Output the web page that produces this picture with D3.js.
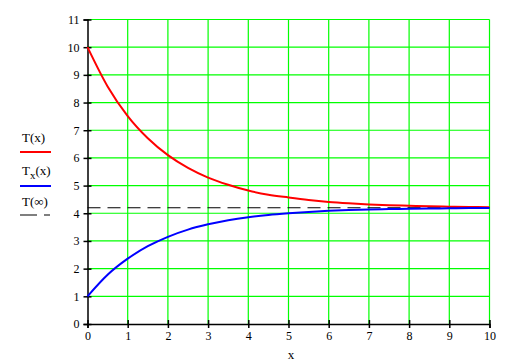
<!DOCTYPE html>
<html>
<head>
<meta charset="utf-8">
<script src="https://cdn.jsdelivr.net/npm/d3@7"></script>
<style>
  body { margin: 0; background: #fff; }
  text { font-family: "Liberation Serif", "DejaVu Serif", serif; fill: #000; }
</style>
</head>
<body>
<div id="chart"></div>
<script>
var svgWidth = 518;
var svgHeight = 362;

// values
var xValues = [0, 0.5, 1, 1.5, 2, 2.5, 3, 3.5, 4, 4.5, 5, 5.5, 6, 6.5, 7, 7.5, 8, 8.5, 9, 9.5, 10];
var redT = [10, 8.58, 7.51, 6.71, 6.1, 5.64, 5.29, 5.03, 4.82, 4.67, 4.57, 4.48, 4.41, 4.36, 4.32, 4.29, 4.27, 4.25, 4.24, 4.23, 4.22];
var blueTx = [1, 1.78, 2.36, 2.81, 3.15, 3.41, 3.6, 3.75, 3.86, 3.94, 4.0, 4.05, 4.09, 4.12, 4.14, 4.15, 4.16, 4.17, 4.18, 4.19, 4.19];
var tInf = 4.2;
var xTicks = [0, 1, 2, 3, 4, 5, 6, 7, 8, 9, 10];
var yTicks = [0, 1, 2, 3, 4, 5, 6, 7, 8, 9, 10, 11];

var margin = { top: 19.5, right: 28.5, bottom: 38, left: 87.5 };
var width = svgWidth - margin.left - margin.right;
var height = svgHeight - margin.top - margin.bottom;

var svg = d3.select("#chart")
  .append("svg")
  .attr("width", svgWidth)
  .attr("height", svgHeight);

var chartGroup = svg.append("g")
  .attr("transform", `translate(${margin.left}, ${margin.top})`);

var xScale = d3.scaleLinear().domain([0, 10]).range([0, width]);
var yScale = d3.scaleLinear().domain([0, 11]).range([height, 0]);

// green grid
chartGroup.append("g")
  .selectAll("line")
  .data(xTicks.filter(d => d > 0))
  .enter()
  .append("line")
  .attr("x1", d => xScale(d)).attr("x2", d => xScale(d))
  .attr("y1", 0).attr("y2", height)
  .attr("stroke", "#00ff00").attr("stroke-width", 1.2);

chartGroup.append("g")
  .selectAll("line")
  .data(yTicks.filter(d => d > 0))
  .enter()
  .append("line")
  .attr("x1", 0).attr("x2", width)
  .attr("y1", d => yScale(d)).attr("y2", d => yScale(d))
  .attr("stroke", "#00ff00").attr("stroke-width", 1.2);

// axes
var bottomAxis = d3.axisBottom(xScale).tickValues(xTicks).tickSize(4).tickPadding(3);
var leftAxis = d3.axisLeft(yScale).tickValues(yTicks).tickSize(4).tickPadding(4);

var xAxisG = chartGroup.append("g")
  .attr("transform", `translate(0, ${height})`)
  .call(bottomAxis);
var yAxisG = chartGroup.append("g").call(leftAxis);

[xAxisG, yAxisG].forEach(function(g) {
  g.select(".domain").attr("stroke", "#000").attr("stroke-width", 1.5);
  g.selectAll(".tick line").attr("stroke", "#000").attr("stroke-width", 1.5);
  g.selectAll(".tick text")
    .attr("font-size", 12)
    .attr("font-family", "Liberation Serif, serif")
    .attr("fill", "#000");
});
// ticks cross the axis
xAxisG.selectAll(".tick line").attr("y1", -4).attr("y2", 4);
yAxisG.selectAll(".tick line").attr("x1", -4).attr("x2", 4);

// dashed asymptote
chartGroup.append("line")
  .attr("x1", xScale(0)).attr("x2", xScale(10))
  .attr("y1", yScale(tInf)).attr("y2", yScale(tInf))
  .attr("stroke", "#000").attr("stroke-width", 1.2)
  .attr("stroke-dasharray", "13,7");

var line = d3.line()
  .x(d => xScale(d[0]))
  .y(d => yScale(d[1]))
  .curve(d3.curveMonotoneX);

chartGroup.append("path")
  .datum(xValues.map((x, i) => [x, redT[i]]))
  .attr("d", line)
  .attr("fill", "none")
  .attr("stroke", "#ff0000")
  .attr("stroke-width", 2);

chartGroup.append("path")
  .datum(xValues.map((x, i) => [x, blueTx[i]]))
  .attr("d", line)
  .attr("fill", "none")
  .attr("stroke", "#0000ff")
  .attr("stroke-width", 2);

// x axis label
svg.append("text")
  .attr("x", 291)
  .attr("y", 359)
  .attr("text-anchor", "middle")
  .attr("font-size", 13)
  .text("x");

// legend
var legend = svg.append("g");
legend.append("text").attr("x", 22).attr("y", 142).attr("font-size", 13).text("T(x)");
legend.append("line").attr("x1", 20).attr("x2", 51).attr("y1", 152).attr("y2", 152)
  .attr("stroke", "#ff0000").attr("stroke-width", 2);

var tx = legend.append("text").attr("x", 22).attr("y", 175).attr("font-size", 13);
tx.append("tspan").text("T");
tx.append("tspan").attr("dy", 4).attr("font-size", 11).text("x");
tx.append("tspan").attr("dy", -4).text("(x)");
legend.append("line").attr("x1", 20).attr("x2", 51).attr("y1", 186).attr("y2", 186)
  .attr("stroke", "#0000ff").attr("stroke-width", 2);

legend.append("text").attr("x", 22).attr("y", 206).attr("font-size", 13).text("T(\u221e)");
legend.append("line").attr("x1", 20).attr("x2", 50).attr("y1", 215).attr("y2", 215)
  .attr("stroke", "#000").attr("stroke-width", 1.2)
  .attr("stroke-dasharray", "17,7");
</script>
</body>
</html>
